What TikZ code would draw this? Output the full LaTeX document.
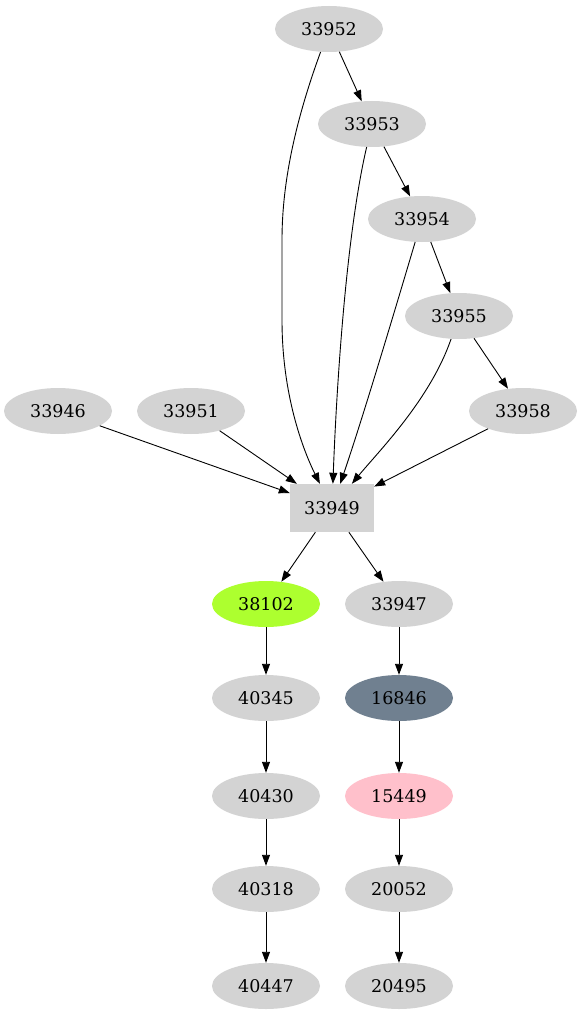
\documentclass[tikz,border=0pt]{standalone}
\usepackage{fontspec}
\setmainfont{DejaVu Serif}
\usetikzlibrary{shapes.geometric,arrows.meta}
\definecolor{lgray}{HTML}{D3D3D3}
\definecolor{gyellow}{HTML}{ADFF2F}
\definecolor{sgray}{HTML}{708090}
\definecolor{pinkc}{HTML}{FFC0CB}
\begin{document}
\begin{tikzpicture}[x=1pt,y=-1pt,
  ell/.style={ellipse,fill=lgray,draw=none,inner sep=0pt,minimum width=108pt,minimum height=46pt,font=\fontsize{17.5}{20}\selectfont},
  boxn/.style={rectangle,fill=lgray,draw=none,inner sep=0pt,minimum width=84pt,minimum height=48pt,font=\fontsize{17.5}{20}\selectfont},
  edge/.style={draw=black,line width=0.9pt,-{Triangle[length=11pt,width=8pt]}}]
\useasboundingbox (0,0) rectangle (583,1019);
\node[ell] (n33952) at (329,29) {33952};
\node[ell] (n33953) at (372,124) {33953};
\node[ell] (n33954) at (422,219) {33954};
\node[ell] (n33955) at (459,316) {33955};
\node[ell] (n33946) at (58,411) {33946};
\node[ell] (n33951) at (191,411) {33951};
\node[ell] (n33958) at (523,411) {33958};
\node[boxn] (n33949) at (332,508) {33949};
\node[ell,fill=gyellow] (n38102) at (266,604) {38102};
\node[ell] (n33947) at (399,604) {33947};
\node[ell] (n40345) at (266,698) {40345};
\node[ell,fill=sgray] (n16846) at (399,698) {16846};
\node[ell] (n40430) at (266,796) {40430};
\node[ell,fill=pinkc] (n15449) at (399,796) {15449};
\node[ell] (n40318) at (266,889) {40318};
\node[ell] (n20052) at (399,889) {20052};
\node[ell] (n40447) at (266,986) {40447};
\node[ell] (n20495) at (399,986) {20495};

\draw[edge] (n33952) .. controls (292,130) and (282,190) .. (282,240) -- (282,320) .. controls (282,400) and (306,456) .. (n33949);
\draw[edge] (n33953) .. controls (345,240) and (336,400) .. (n33949);
\draw[edge] (n33954) .. controls (392,320) and (362,420) .. (n33949);
\draw[edge] (n33955) .. controls (430,400) and (378,452) .. (n33949);
\draw[edge] (n33958) -- (n33949);
\draw[edge] (n33946) -- (n33949);
\draw[edge] (n33951) -- (n33949);
\draw[edge] (n33952) -- (n33953);
\draw[edge] (n33953) -- (n33954);
\draw[edge] (n33954) -- (n33955);
\draw[edge] (n33955) -- (n33958);
\draw[edge] (n33949) -- (n38102);
\draw[edge] (n33949) -- (n33947);
\draw[edge] (n38102) -- (n40345);
\draw[edge] (n40345) -- (n40430);
\draw[edge] (n40430) -- (n40318);
\draw[edge] (n40318) -- (n40447);
\draw[edge] (n33947) -- (n16846);
\draw[edge] (n16846) -- (n15449);
\draw[edge] (n15449) -- (n20052);
\draw[edge] (n20052) -- (n20495);
\end{tikzpicture}
\end{document}
